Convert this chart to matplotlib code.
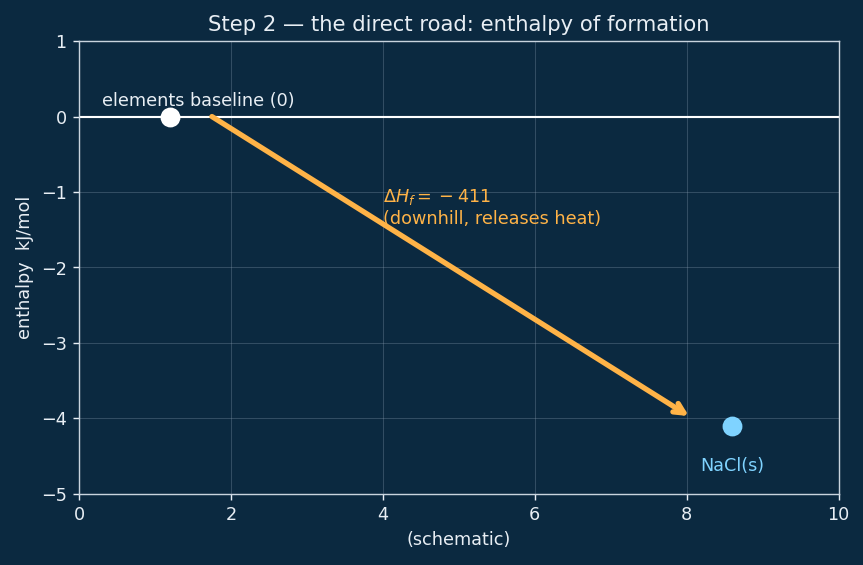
import matplotlib.pyplot as plt

# values
elements_pt = (1.2, 0.0)
nacl_pt = (8.6, -4.1)
arrow_start = (1.75, 0.0)
arrow_end = (8.03, -3.97)
dHf = -411

bg = '#0b2940'
fg = '#e8eef4'
orange = '#ffb347'
blue = '#7fd3ff'

fig = plt.figure(figsize=(6.8, 4.45), dpi=127, facecolor=bg)
ax = fig.add_axes([0.0915, 0.126, 0.8795, 0.801], facecolor=bg)

ax.axhline(0, color='white', lw=1.2, zorder=2)
ax.scatter([elements_pt[0]], [elements_pt[1]], s=105, color='white', zorder=4)
ax.scatter([nacl_pt[0]], [nacl_pt[1]], s=105, color=blue, zorder=4)

ax.annotate('', xy=arrow_end, xytext=arrow_start,
            arrowprops=dict(arrowstyle='->', color=orange, lw=3,
                            mutation_scale=14, shrinkA=0, shrinkB=0), zorder=3)

ax.text(0.3, 0.21, 'elements baseline (0)', color=fg, fontsize=10, va='center')
ax.text(4.0, -1.2, r'$\Delta H_f =\: -\:%d$' % abs(dHf) + '\n(downhill, releases heat)',
        color=orange, fontsize=10, va='center')
ax.text(8.6, -4.63, 'NaCl(s)', color=blue, fontsize=10, ha='center', va='center')

ax.set_xlim(0, 10)
ax.set_ylim(-5, 1)
ax.set_title('Step 2 — the direct road: enthalpy of formation', color=fg, fontsize=12)
ax.set_xlabel('(schematic)', color=fg, fontsize=10)
ax.set_ylabel('enthalpy  kJ/mol', color=fg, fontsize=10)
ax.tick_params(colors=fg, labelsize=10)
ax.grid(True, color='#8fa3b5', alpha=0.3, lw=0.6)
for s in ax.spines.values():
    s.set_color('#c9d4de')

fig.savefig('out.png', dpi=127, facecolor=bg)
